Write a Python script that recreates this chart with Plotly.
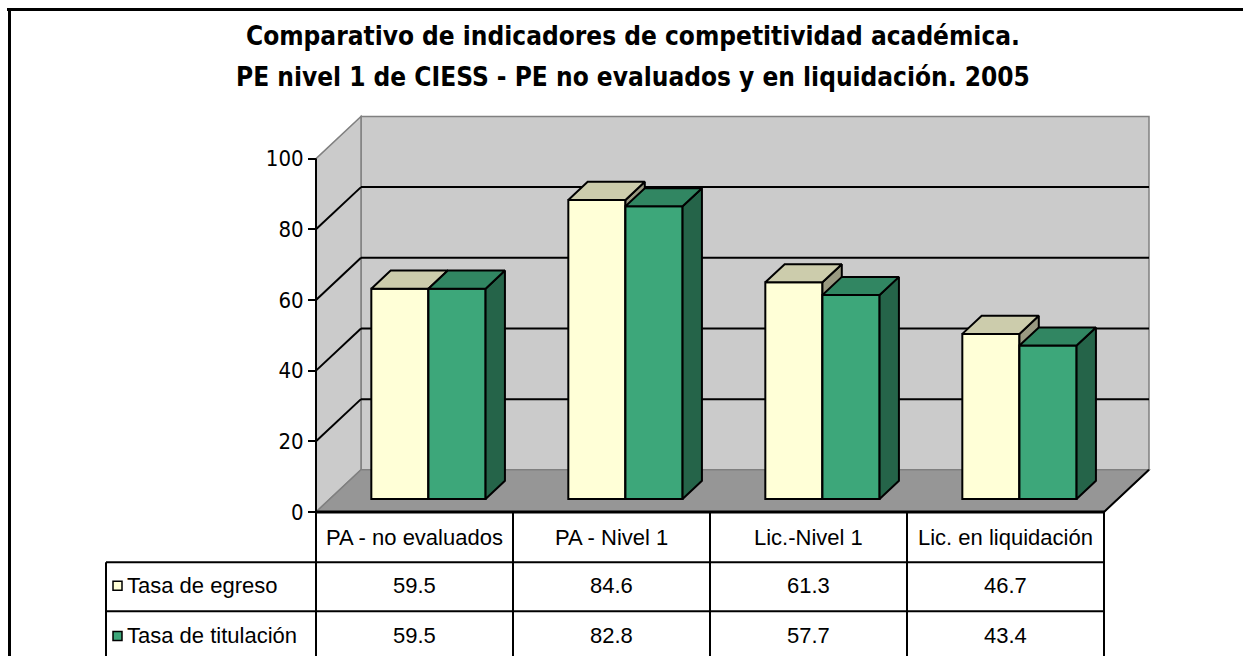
import plotly.graph_objects as go

# ---------------- data ----------------
categories = ["PA - no evaluados", "PA - Nivel 1", "Lic.-Nivel 1", "Lic. en liquidación"]
series_names = ["Tasa de egreso", "Tasa de titulación"]
tasa_egreso = [59.5, 84.6, 61.3, 46.7]
tasa_titulacion = [59.5, 82.8, 57.7, 43.4]
y_ticks = [0, 20, 40, 60, 80, 100]
title_lines = [
    "Comparativo de indicadores de competitividad académica.",
    "PE nivel 1 de CIESS - PE no evaluados y en liquidación. 2005",
]

# ---------------- styling / geometry (screen pixels) ----------------
W, H = 1243, 656
SY = 0.984        # vertical compensation observed in the rendered picture
X0_PX = 316       # front-left corner of the category axis
CAT_PX = 197      # pixels per category
Y0_PX = 510       # front zero line
Y100_PX = 158     # front 100 line
DEPTH_DX_PX = 45  # oblique depth offset
DEPTH_DY_PX = 42
PAD = 5

COND = "DejaVu Sans Condensed, Liberation Sans Narrow, Arial Narrow, sans-serif"
REG = "Liberation Sans, Arial, sans-serif"

front_colors = [(255, 255, 215), (61, 167, 122)]


def rgb(c, f=1.0):
    return "rgb(%d,%d,%d)" % tuple(int(round(v * f)) for v in c)


ncat = len(categories)
idx = list(range(ncat))
ppu = (Y0_PX - Y100_PX) / 100.0
dxb = DEPTH_DX_PX / CAT_PX
dyb = DEPTH_DY_PX / ppu
x_lo, x_hi = -0.5, ncat - 0.5
ymax = max(y_ticks)


def P(xs):
    return xs / W


def Q(ys):
    return 1 - ys / (H * SY)


def px(x):
    return X0_PX + (x - x_lo) * CAT_PX


x_range = [x_lo - PAD / CAT_PX, x_hi + dxb + PAD / CAT_PX]
y_range = [-PAD / ppu, ymax + dyb + PAD / ppu]
x_dom = [P(X0_PX - PAD), P(X0_PX - PAD + (x_range[1] - x_range[0]) * CAT_PX)]
y_dom = [Q(Y0_PX + PAD), Q(Y0_PX + PAD - (y_range[1] - y_range[0]) * ppu)]

fig = go.Figure()

# ---------------- 3D bars ----------------
BAR_W = 0.29
T_FRONT, T_BACK = 0.31, 0.74
sx, sy = T_FRONT * dxb, T_FRONT * dyb
ddx, ddy = (T_BACK - T_FRONT) * dxb, (T_BACK - T_FRONT) * dyb

for k, (name, vals) in enumerate(zip(series_names, [tasa_egreso, tasa_titulacion])):
    off = -BAR_W + k * BAR_W + sx
    col = front_colors[k]
    fig.add_trace(go.Bar(
        x=idx, y=vals, base=[sy] * ncat, width=BAR_W, offset=off,
        marker=dict(color=rgb(col), line=dict(color="black", width=2)),
        name=name, showlegend=False, zorder=k + 1,
    ))
    tx, ty, sxs, sys_ = [], [], [], []
    for i, v in enumerate(vals):
        xl = i + off
        xr = xl + BAR_W
        yt = sy + v
        tx += [xl, xr, xr + ddx, xl + ddx, xl, None]
        ty += [yt, yt, yt + ddy, yt + ddy, yt, None]
        sxs += [xr, xr + ddx, xr + ddx, xr, xr, None]
        sys_ += [sy, sy + ddy, yt + ddy, yt, sy, None]
    fig.add_trace(go.Scatter(x=sxs, y=sys_, mode="lines", fill="toself",
                             fillcolor=rgb(col, 0.6), line=dict(color="black", width=2),
                             hoverinfo="skip", showlegend=False, zorder=k + 1))
    fig.add_trace(go.Scatter(x=tx, y=ty, mode="lines", fill="toself",
                             fillcolor=rgb(col, 0.8), line=dict(color="black", width=2),
                             hoverinfo="skip", showlegend=False, zorder=k + 1))

# ---------------- walls, floor, gridlines ----------------
shapes = []


def path(pts):
    return "M " + " L ".join("%f,%f" % p for p in pts) + " Z"


WALL = "#cbcbcb"
EDGE = "#808080"
shapes.append(dict(type="path", xref="x", yref="y", layer="below",
                   path=path([(x_lo + dxb, dyb), (x_hi + dxb, dyb), (x_hi + dxb, ymax + dyb), (x_lo + dxb, ymax + dyb)]),
                   fillcolor=WALL, line=dict(color=EDGE, width=1.5)))
shapes.append(dict(type="path", xref="x", yref="y", layer="below",
                   path=path([(x_lo, 0), (x_lo + dxb, dyb), (x_lo + dxb, ymax + dyb), (x_lo, ymax)]),
                   fillcolor=WALL, line=dict(color=EDGE, width=1.5)))
shapes.append(dict(type="path", xref="x", yref="y", layer="below",
                   path=path([(x_lo, 0), (x_hi, 0), (x_hi + dxb, dyb), (x_lo + dxb, dyb)]),
                   fillcolor="#969696", line=dict(color=EDGE, width=1.5)))
shapes.append(dict(type="line", xref="x", yref="y", layer="below",
                   x0=x_hi, y0=0, x1=x_hi + dxb, y1=dyb, line=dict(color="black", width=2)))
for t in y_ticks[1:-1]:
    shapes.append(dict(type="line", xref="x", yref="y", layer="below",
                       x0=x_lo + dxb, y0=t + dyb, x1=x_hi + dxb, y1=t + dyb,
                       line=dict(color="black", width=2)))
    shapes.append(dict(type="line", xref="x", yref="y", layer="below",
                       x0=x_lo, y0=t, x1=x_lo + dxb, y1=t + dyb,
                       line=dict(color="black", width=2)))
shapes.append(dict(type="line", xref="x", yref="y", layer="above",
                   x0=x_lo, y0=0, x1=x_lo, y1=ymax, line=dict(color="black", width=2)))
shapes.append(dict(type="line", xref="x", yref="y", layer="above",
                   x0=x_lo, y0=0, x1=x_hi, y1=0, line=dict(color="black", width=3)))

# ---------------- data table ----------------
annotations = []
ROW_TOP = [Y0_PX, 560, 609]
ROW_BOT = [560, 609, 660]
LEG_X = 106
for yp in [560, 609]:
    shapes.append(dict(type="line", xref="paper", yref="paper",
                       x0=P(LEG_X), y0=Q(yp), x1=P(px(x_hi)), y1=Q(yp),
                       line=dict(color="black", width=2)))
for j in range(ncat + 1):
    xp = px(x_lo + j)
    shapes.append(dict(type="line", xref="paper", yref="paper",
                       x0=P(xp), y0=Q(Y0_PX), x1=P(xp), y1=Q(680),
                       line=dict(color="black", width=2)))
shapes.append(dict(type="line", xref="paper", yref="paper",
                   x0=P(LEG_X), y0=Q(560), x1=P(LEG_X), y1=Q(680),
                   line=dict(color="black", width=2)))

TFONT = dict(family=REG, size=22, color="black")
for i, c in enumerate(categories):
    annotations.append(dict(x=P(px(i)), y=Q((ROW_TOP[0] + ROW_BOT[0]) / 2), xref="paper", yref="paper",
                            text=c, showarrow=False, xanchor="center", yanchor="middle", font=TFONT))
for r, (name, vals) in enumerate(zip(series_names, [tasa_egreso, tasa_titulacion])):
    yc = (ROW_TOP[r + 1] + ROW_BOT[r + 1]) / 2 - 1
    for i, v in enumerate(vals):
        annotations.append(dict(x=P(px(i)), y=Q(yc), xref="paper", yref="paper",
                                text="%.1f" % v, showarrow=False, xanchor="center", yanchor="middle", font=TFONT))
    shapes.append(dict(type="rect", xref="paper", yref="paper",
                       x0=P(113), x1=P(122), y0=Q(yc - 4.5), y1=Q(yc + 4.5),
                       fillcolor=rgb(front_colors[r]), line=dict(color="black", width=1.5)))
    annotations.append(dict(x=P(125), y=Q(yc), xref="paper", yref="paper",
                            text=name, showarrow=False, xanchor="left", yanchor="middle", font=TFONT))

# ---------------- title ----------------
for line, yc in zip(title_lines, [36, 77]):
    annotations.append(dict(x=P(633), y=Q(yc), xref="paper", yref="paper",
                            text="<b>%s</b>" % line, showarrow=False, xanchor="center", yanchor="middle",
                            font=dict(family=COND, size=26, color="black")))

# ---------------- outer frame ----------------
shapes.append(dict(type="line", xref="paper", yref="paper", x0=P(7), y0=Q(9.5), x1=P(1250), y1=Q(9.5),
                   line=dict(color="black", width=3)))
shapes.append(dict(type="line", xref="paper", yref="paper", x0=P(9.5), y0=Q(8), x1=P(9.5), y1=Q(680),
                   line=dict(color="black", width=3)))

fig.update_layout(
    width=W, height=H,
    margin=dict(l=0, r=0, t=0, b=0),
    paper_bgcolor="white", plot_bgcolor="rgba(0,0,0,0)",
    showlegend=False, barmode="overlay",
    shapes=shapes, annotations=annotations,
    xaxis=dict(domain=x_dom, range=x_range, visible=False, fixedrange=True),
    yaxis=dict(domain=y_dom, range=y_range, anchor="free", position=P(X0_PX),
               tickvals=y_ticks, ticks="outside", ticklen=8, tickwidth=2, tickcolor="black",
               showgrid=False, zeroline=False, showline=False,
               tickfont=dict(family=COND, size=22, color="black"), fixedrange=True),
)

POST = (
    "document.body.style.margin='0';"
    "document.documentElement.style.overflow='hidden';"
    "document.body.style.overflow='hidden';"
    "var gd=document.getElementById('{plot_id}');"
    "gd.style.position='fixed';gd.style.left='0px';gd.style.top='0px';"
)

fig.write_html("out.html", config={"displayModeBar": False}, post_script=POST)
